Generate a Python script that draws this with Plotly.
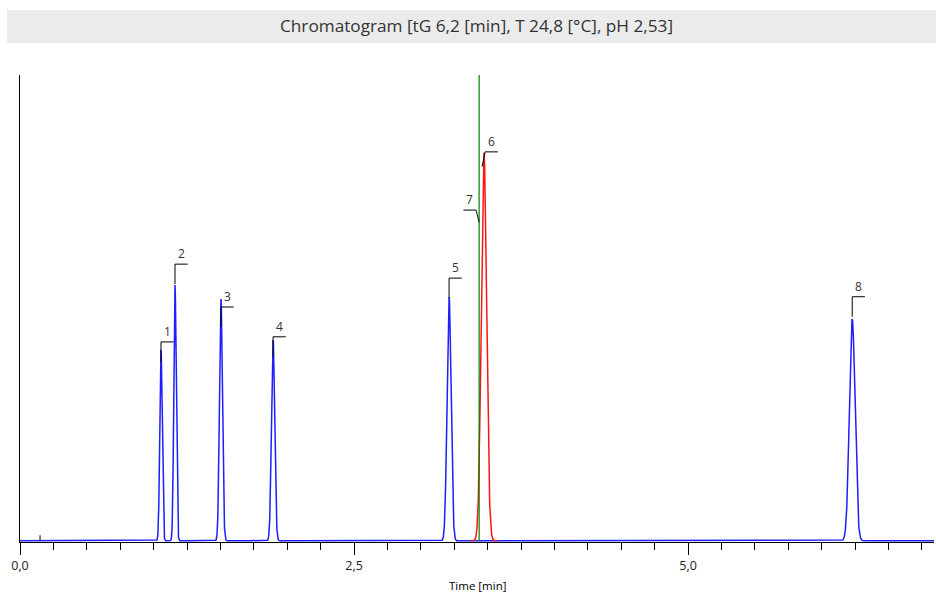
import numpy as np
import plotly.graph_objects as go

# ---- data ----
blue_labels = ["1", "2", "3", "4", "5", "8"]
blue_times = [1.055, 1.160, 1.504, 1.894, 3.211, 6.228]
blue_heights = [41.0, 54.9, 51.9, 43.1, 52.3, 47.6]
blue_sigmas = [0.009, 0.009, 0.011, 0.012, 0.015, 0.021]
blue_label_levels = [42.7, 59.4, 50.2, 43.8, 56.4, 52.4]

red_label = "6"
red_time = 3.472
red_height = 83.3
red_sigma = 0.020
red_label_level = 83.5

marker_label = "7"
marker_time = 3.436
marker_label_level = 71.0

dead_time = 0.15
x_max = 6.84
tick_vals = [0.0, 2.5, 5.0]
tick_text = ["0,0", "2,5", "5,0"]
title_text = "Chromatogram [tG 6,2 [min], T 24,8 [°C], pH 2,53]"
x_title = "Time [min]"

# ---- build curves ----
t = np.arange(0, x_max + 0.0005, 0.001)
blue = np.zeros_like(t)
for tr, h, s in zip(blue_times, blue_heights, blue_sigmas):
    blue += h * np.exp(-0.5 * ((t - tr) / s) ** 2)

mask = np.abs(t - red_time) < 5 * red_sigma
t_red = t[mask]
red = red_height * np.exp(-0.5 * ((t_red - red_time) / red_sigma) ** 2)

fig = go.Figure()
fig.add_trace(go.Scatter(x=t, y=blue, mode="lines",
                         line=dict(color="rgb(30,30,255)", width=1.5),
                         hoverinfo="skip", showlegend=False))
fig.add_trace(go.Scatter(x=t_red, y=red, mode="lines",
                         line=dict(color="rgb(255,20,20)", width=1.5),
                         hoverinfo="skip", showlegend=False))
fig.add_trace(go.Scatter(x=[marker_time, marker_time], y=[0, 100], mode="lines",
                         line=dict(color="rgb(0,128,0)", width=1.2),
                         hoverinfo="skip", showlegend=False))

# ---- label brackets ----
seg_len = 0.095
bx, by = [], []
annots = []

def bracket(t_anchor, level, drop, lean, direction, label):
    x1 = t_anchor + lean * direction
    x2 = x1 + seg_len * direction
    bx.extend([t_anchor, x1, x2, None])
    by.extend([level - drop, level, level, None])
    annots.append(dict(x=(x1 + x2) / 2, y=level, text=label, showarrow=False,
                       xref="x", yref="y", yanchor="bottom", yshift=0,
                       font=dict(family="Open Sans", size=12, color="#333333")))

for lab, tr, lv in zip(blue_labels, blue_times, blue_label_levels):
    bracket(tr, lv, 4.3, 0.0, 1, lab)
bracket(red_time - 0.014, red_label_level, 3.2, 0.023, 1, red_label)
bracket(marker_time, marker_label_level, 2.6, 0.023, -1, marker_label)

# dead time tick
bx.extend([dead_time, dead_time, None])
by.extend([0, 1.2, None])

fig.add_trace(go.Scatter(x=bx, y=by, mode="lines",
                         line=dict(color="black", width=1),
                         hoverinfo="skip", showlegend=False))

# ---- title band ----
shapes = [dict(type="rect", xref="paper", yref="paper",
               x0=-0.0142, x1=1.0022, y0=1.0685, y1=1.139,
               fillcolor="#ebebeb", line=dict(width=0), layer="below")]
annots.append(dict(x=0.499, y=1.106, xref="paper", yref="paper", text=title_text,
                   showarrow=False, yanchor="middle",
                   font=dict(family="Open Sans", size=17.2, color="#333333")))
annots.append(dict(x=0.501, y=-0.0942, xref="paper", yref="paper", text=x_title,
                   showarrow=False, yanchor="middle",
                   font=dict(family="Open Sans", size=11.5, color="black")))

fig.update_layout(
    width=936, height=595,
    margin=dict(l=20, r=2, t=75, b=53),
    paper_bgcolor="white", plot_bgcolor="white",
    separators=",.",
    shapes=shapes, annotations=annots,
    showlegend=False,
    xaxis=dict(range=[0, x_max], showgrid=False, zeroline=False, automargin=False,
               showline=True, linecolor="black", linewidth=1,
               ticks="outside", ticklen=12, tickcolor="black", tickwidth=1,
               tickvals=tick_vals, ticktext=tick_text,
               tickfont=dict(family="Open Sans", size=12.5, color="#222222"),
               minor=dict(dtick=0.25, tick0=0, ticks="outside", ticklen=7,
                          tickcolor="black", tickwidth=1, showgrid=False)),
    yaxis=dict(range=[-0.25, 100], showgrid=False, zeroline=False, automargin=False,
               showline=True, linecolor="black", linewidth=1,
               showticklabels=False, ticks=""),
)

fig.write_html("out.html", config={"displayModeBar": False},
               post_script="document.body.style.margin='0';document.body.style.overflow='hidden';")
